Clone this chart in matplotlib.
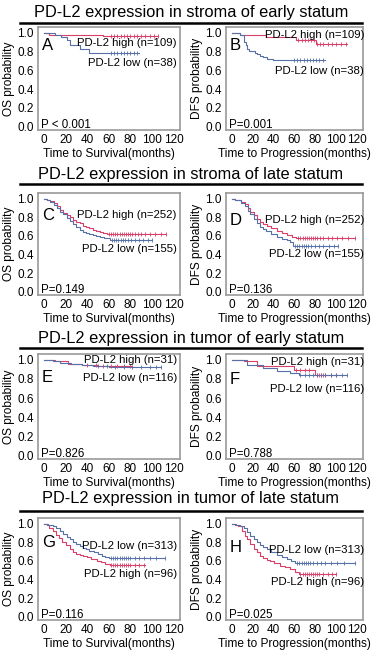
import matplotlib
matplotlib.use("Agg")
import matplotlib.pyplot as plt
from matplotlib.lines import Line2D

plt.rcParams['font.family'] = ['Liberation Sans', 'DejaVu Sans']

# section titles
titles = ["PD-L2 expression in stroma of early statum",
          "PD-L2 expression in stroma of late statum",
          "PD-L2 expression in tumor of early statum",
          "PD-L2 expression in tumor of late statum"]

panel_letters = ["A", "B", "C", "D", "E", "F", "G", "H"]
p_values = ["P < 0.001", "P=0.001", "P=0.149", "P=0.136",
            "P=0.826", "P=0.788", "P=0.116", "P=0.025"]

high_labels = ["PD-L2 high (n=109)", "PD-L2 high (n=109)", "PD-L2 high (n=252)", "PD-L2 high (n=252)",
               "PD-L2 high (n=31)", "PD-L2 high (n=31)", "PD-L2 high (n=96)", "PD-L2 high (n=96)"]
low_labels = ["PD-L2 low (n=38)", "PD-L2 low (n=38)", "PD-L2 low (n=155)", "PD-L2 low (n=155)",
              "PD-L2 low (n=116)", "PD-L2 low (n=116)", "PD-L2 low (n=313)", "PD-L2 low (n=313)"]
high_label_y = [0.89, 0.98, 0.82, 0.77, 1.00, 0.98, 0.46, 0.375]
low_label_y = [0.68, 0.59, 0.457, 0.40, 0.81, 0.69, 0.76, 0.72]
letter_y = [0.865, 0.865, 0.815, 0.76, 0.81, 0.795, 0.80, 0.74]

# Kaplan-Meier step curves (time in months, survival probability)
high_t = [
    [0, 5, 55, 106],
    [0, 8, 33, 62, 81, 111],
    [0, 3, 6, 9, 12, 15, 18, 21, 24, 27, 30, 33, 36, 39, 42, 45, 48, 52, 55, 58, 113],
    [0, 3, 6, 9, 13, 16, 18, 21, 24, 27, 30, 34, 38, 43, 48, 53, 58, 62, 118],
    [0, 10, 22, 35, 50, 65, 82],
    [0, 12, 24, 60, 80, 101],
    [0, 3, 5, 8, 11, 14, 17, 20, 24, 27, 30, 33, 36, 40, 44, 49, 53, 57, 61, 94],
    [0, 3, 6, 10, 13, 15, 18, 21, 24, 27, 30, 34, 37, 41, 46, 51, 56, 61, 65, 100],
]
high_s = [
    [1.0, 0.98, 0.96, 0.96],
    [1.0, 0.97, 0.95, 0.92, 0.875, 0.875],
    [1.0, 0.99, 0.97, 0.95, 0.92, 0.88, 0.85, 0.82, 0.80, 0.77, 0.75, 0.735, 0.71, 0.69, 0.68,
     0.665, 0.655, 0.645, 0.635, 0.625, 0.625],
    [1.0, 0.99, 0.98, 0.96, 0.94, 0.90, 0.86, 0.82, 0.78, 0.75, 0.73, 0.71, 0.68, 0.655, 0.63,
     0.61, 0.59, 0.575, 0.575],
    [1.0, 0.985, 0.96, 0.945, 0.935, 0.93, 0.93],
    [1.0, 0.985, 0.93, 0.89, 0.84, 0.84],
    [1.0, 0.98, 0.955, 0.92, 0.88, 0.84, 0.80, 0.77, 0.73, 0.69, 0.675, 0.665, 0.656, 0.64, 0.62,
     0.60, 0.585, 0.57, 0.558, 0.558],
    [1.0, 0.99, 0.97, 0.92, 0.87, 0.83, 0.78, 0.73, 0.69, 0.656, 0.63, 0.61, 0.60, 0.575, 0.55,
     0.53, 0.51, 0.48, 0.456, 0.456],
]
low_t = [
    [0, 10, 16, 21, 24, 33, 42, 88],
    [0, 8, 12, 14, 15, 17, 19, 22, 24, 27, 30, 34, 40, 90],
    [0, 3, 6, 9, 12, 15, 18, 21, 24, 27, 30, 33, 36, 39, 42, 45, 48, 52, 56, 61, 100],
    [0, 3, 6, 9, 13, 16, 18, 21, 24, 27, 30, 33, 38, 43, 48, 53, 56, 59, 102],
    [0, 8, 15, 25, 35, 45, 60, 108],
    [0, 15, 30, 43, 56, 65, 111],
    [0, 4, 8, 11, 15, 18, 21, 24, 27, 30, 33, 36, 39, 42, 46, 50, 54, 57, 60, 112],
    [0, 4, 8, 12, 15, 18, 21, 24, 27, 30, 34, 38, 43, 48, 53, 57, 61, 118],
]
low_s = [
    [1.0, 0.97, 0.95, 0.925, 0.865, 0.83, 0.785, 0.785],
    [1.0, 0.97, 0.90, 0.87, 0.83, 0.81, 0.80, 0.78, 0.77, 0.755, 0.74, 0.72, 0.705, 0.705],
    [1.0, 0.99, 0.96, 0.93, 0.90, 0.86, 0.83, 0.79, 0.76, 0.725, 0.69, 0.66, 0.645, 0.635, 0.625,
     0.61, 0.60, 0.59, 0.575, 0.557, 0.557],
    [1.0, 0.99, 0.98, 0.95, 0.92, 0.87, 0.83, 0.78, 0.74, 0.70, 0.675, 0.655, 0.62, 0.59, 0.57,
     0.555, 0.53, 0.495, 0.495],
    [1.0, 0.99, 0.97, 0.96, 0.95, 0.935, 0.925, 0.925],
    [1.0, 0.95, 0.915, 0.88, 0.86, 0.84, 0.84],
    [1.0, 0.99, 0.97, 0.95, 0.92, 0.89, 0.86, 0.83, 0.80, 0.78, 0.76, 0.74, 0.725, 0.71, 0.69,
     0.67, 0.655, 0.64, 0.627, 0.627],
    [1.0, 0.99, 0.97, 0.955, 0.91, 0.866, 0.83, 0.80, 0.77, 0.75, 0.73, 0.70, 0.66, 0.64, 0.62,
     0.60, 0.575, 0.575],
]

# censoring times
high_cens = [
    [62, 65, 68, 71, 74, 77, 80, 83, 86, 90, 94, 98, 102, 106],
    [64, 67, 70, 73, 76, 79, 82, 85, 88, 92, 96, 100, 105, 110],
    [60, 62, 64, 66, 68, 70, 72, 74, 76, 78, 80, 82, 84, 87, 90, 94, 98, 103, 108, 113],
    [64, 66, 68, 70, 72, 74, 76, 78, 80, 82, 85, 88, 92, 96, 101, 106, 112, 118],
    [40, 48, 55, 62, 68, 74, 80],
    [62, 66, 70, 74, 82, 84, 86, 88, 90, 95, 100],
    [62, 64, 66, 68, 70, 72, 74, 76, 78, 80, 84, 88, 93],
    [66, 68, 70, 72, 74, 76, 78, 80, 82, 84, 88, 92, 96, 100],
]
low_cens = [
    [62, 65, 68, 71, 74, 77, 80, 83, 86],
    [60, 63, 66, 69, 72, 75, 78, 81, 84, 88],
    [63, 65, 67, 69, 71, 73, 75, 78, 81, 84, 88, 92, 96, 100],
    [61, 63, 65, 67, 69, 71, 73, 76, 80, 84, 88, 93, 98, 102],
    [50, 58, 66, 74, 82, 90, 98, 104, 108],
    [66, 70, 74, 78, 82, 86, 90, 95, 100, 106, 111],
    [62, 64, 66, 68, 70, 72, 74, 76, 78, 80, 84, 88, 93, 98, 104, 112],
    [63, 65, 67, 69, 71, 73, 75, 78, 82, 86, 90, 95, 101, 108, 118],
]

red = "#d8406a"
blue = "#5670a8"

W, H = 372, 654
fig = plt.figure(figsize=(W / 100, H / 100), dpi=100)

row_top = [27, 193, 354, 518]
row_bot = [130, 295, 459, 620]
title_y = [12, 175, 339, 498]
line_y = [22.5, 184, 347.5, 510.5]
col_left = [38, 226]
col_right = [180, 363]

def fy(p):
    return 1 - p / H

for r in range(4):
    fig.text(191 / W, fy(title_y[r]), titles[r], ha='center', va='center', fontsize=11.8)
    fig.add_artist(Line2D([20 / W, 362 / W], [fy(line_y[r]), fy(line_y[r])],
                          color='black', lw=1.8))
    for c in range(2):
        i = r * 2 + c
        x0, x1 = col_left[c], col_right[c]
        ax = fig.add_axes([x0 / W, fy(row_bot[r]), (x1 - x0) / W, (row_bot[r] - row_top[r]) / H])
        ax.set_xlim(-5.5, 126)
        ax.set_ylim(-0.035, 1.06)
        ax.step(high_t[i], high_s[i], where='post', color=red, lw=0.8)
        ax.step(low_t[i], low_s[i], where='post', color=blue, lw=0.8)
        # censor marks on the step curves
        hc = [high_s[i][max(k for k, t in enumerate(high_t[i]) if t <= ct)] for ct in high_cens[i]]
        lc = [low_s[i][max(k for k, t in enumerate(low_t[i]) if t <= ct)] for ct in low_cens[i]]
        ax.plot(high_cens[i], hc, ls='none', marker='|', ms=2.5, mew=0.6, color=red)
        ax.plot(low_cens[i], lc, ls='none', marker='|', ms=2.5, mew=0.6, color=blue)

        ax.set_xticks([0, 20, 40, 60, 80, 100, 120])
        ax.set_yticks([0.0, 0.2, 0.4, 0.6, 0.8, 1.0])
        ax.set_yticklabels(["0.0", "0.2", "0.4", "0.6", "0.8", "1.0"])
        ax.tick_params(length=0, pad=3, labelsize=8.5)
        for sp in ax.spines.values():
            sp.set_color('#9a9a9a')
            sp.set_linewidth(1.2)
        ax.set_xlabel("Time to Survival(months)" if c == 0 else "Time to Progression(months)",
                      fontsize=8.6, labelpad=1)
        ax.set_ylabel("OS probability" if c == 0 else "DFS probability", fontsize=8.6, labelpad=2)

        ax.text(-2, letter_y[i], panel_letters[i], fontsize=12, ha='left', va='center')
        ax.text(-2.5, 0.02, p_values[i], fontsize=8.3, ha='left', va='center')
        tx = 123 if c == 0 else 127
        ax.text(tx, high_label_y[i], high_labels[i], fontsize=8.2, ha='right', va='center')
        ax.text(tx, low_label_y[i], low_labels[i], fontsize=8.2, ha='right', va='center')

fig.savefig("out.png", dpi=100)
